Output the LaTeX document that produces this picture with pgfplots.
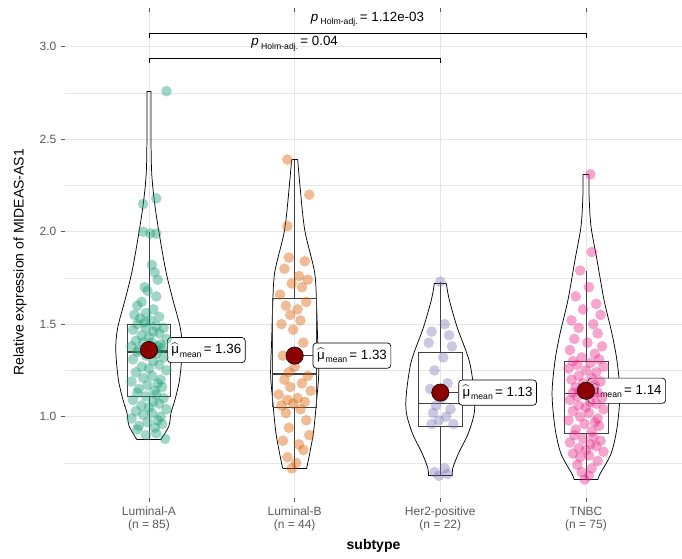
\documentclass[border=0pt]{standalone}
\usepackage{fontspec}
\setmainfont{Liberation Sans}
\usepackage{pgfplots}
\usepackage{pgfplotstable}
\pgfplotsset{compat=1.18}
\definecolor{cA}{HTML}{1B9E77}
\definecolor{cB}{HTML}{D95F02}
\definecolor{cC}{HTML}{7570B3}
\definecolor{cD}{HTML}{E7298A}
\definecolor{meanred}{HTML}{8B0000}
\definecolor{gridc}{HTML}{E6E6E6}
\definecolor{tickc}{HTML}{5A5A5A}
\definecolor{boxc}{HTML}{404040}

\pgfplotstableread{
y xl xr
0.875 0.918 1.082
0.95 0.863 1.137
1.02 0.849 1.151
1.09 0.822 1.178
1.20 0.790 1.210
1.36 0.772 1.228
1.48 0.785 1.215
1.65 0.842 1.158
1.81 0.890 1.110
2.10 0.952 1.048
2.30 0.980 1.020
2.50 0.986 1.014
2.76 0.986 1.014
}\vA
\pgfplotstableread{
y xl xr
0.72 1.918 2.082
0.80 1.897 2.103
0.92 1.870 2.130
1.09 1.849 2.151
1.23 1.835 2.165
1.41 1.842 2.158
1.59 1.849 2.151
1.78 1.863 2.137
2.01 1.931 2.069
2.27 1.966 2.034
2.39 1.979 2.021
}\vB
\pgfplotstableread{
y xl xr
0.68 2.918 3.082
0.72 2.915 3.085
0.80 2.876 3.124
0.91 2.808 3.192
1.02 2.767 3.233
1.125 2.767 3.233
1.30 2.801 3.199
1.48 2.883 3.117
1.63 2.938 3.062
1.72 2.959 3.041
}\vC
\pgfplotstableread{
y xl xr
0.66 3.918 4.082
0.69 3.904 4.096
0.80 3.828 4.172
0.94 3.787 4.213
1.125 3.767 4.233
1.30 3.787 4.213
1.45 3.822 4.178
1.63 3.876 4.124
1.85 3.925 4.075
2.03 3.966 4.034
2.20 3.979 4.021
2.31 3.979 4.021
}\vD

\begin{document}
\begin{tikzpicture}
\useasboundingbox (-48.75pt,-45pt) rectangle (462.75pt,373.5pt);
\begin{axis}[
  at={(0,0)}, anchor=south west,
  scale only axis, width=462.75pt, height=364.5pt,
  xmin=0.4235, xmax=4.659, ymin=0.56, ymax=3.188,
  axis line style={draw=none},
  xtick={1,2,3,4},
  xticklabels={{Luminal-A\\(n = 85)},{Luminal-B\\(n = 44)},{Her2-positive\\(n = 22)},{TNBC\\(n = 75)}},
  xticklabel style={align=center, text=tickc, font=\fontsize{9}{10}\selectfont},
  ytick={1,1.5,2,2.5,3},
  yticklabels={1.0,1.5,2.0,2.5,3.0},
  yticklabel style={text=tickc, font=\fontsize{9}{10}\selectfont},
  minor ytick={0.75,1.25,1.75,2.25,2.75},
  grid=both,
  major grid style={gridc, line width=0.6pt},
  minor grid style={gridc, line width=0.5pt},
  tick style={tickc, line width=0.5pt},
  tick align=outside,
  major tick length=3pt,
  minor tick length=0pt,
  xlabel={\bfseries subtype},
  xlabel style={at={(axis description cs:0.5,-0.0988)}, anchor=center, font=\fontsize{10.5}{12}\selectfont},
  ylabel={Relative expression of MIDEAS-AS1},
  ylabel style={at={(axis description cs:-0.0729,0.485)}, anchor=center, font=\fontsize{10.5}{12}\selectfont},
  clip=false,
  /pgf/number format/assume math mode=true,
]

% violins
\addplot[black, line width=0.55pt, smooth, tension=0.5] table[x=xl,y=y]{\vA};
\addplot[black, line width=0.55pt, smooth, tension=0.5] table[x=xr,y=y]{\vA};
\addplot[black, line width=0.55pt] coordinates {(0.918,0.875)(1.082,0.875)};
\addplot[black, line width=0.55pt] coordinates {(0.986,2.76)(1.014,2.76)};
\addplot[black, line width=0.55pt, smooth, tension=0.5] table[x=xl,y=y]{\vB};
\addplot[black, line width=0.55pt, smooth, tension=0.5] table[x=xr,y=y]{\vB};
\addplot[black, line width=0.55pt] coordinates {(1.918,0.72)(2.082,0.72)};
\addplot[black, line width=0.55pt] coordinates {(1.979,2.39)(2.021,2.39)};
\addplot[black, line width=0.55pt, smooth, tension=0.5] table[x=xl,y=y]{\vC};
\addplot[black, line width=0.55pt, smooth, tension=0.5] table[x=xr,y=y]{\vC};
\addplot[black, line width=0.55pt] coordinates {(2.918,0.68)(3.082,0.68)};
\addplot[black, line width=0.55pt] coordinates {(2.959,1.72)(3.041,1.72)};
\addplot[black, line width=0.55pt, smooth, tension=0.5] table[x=xl,y=y]{\vD};
\addplot[black, line width=0.55pt, smooth, tension=0.5] table[x=xr,y=y]{\vD};
\addplot[black, line width=0.55pt] coordinates {(3.918,0.66)(4.082,0.66)};
\addplot[black, line width=0.55pt] coordinates {(3.979,2.31)(4.021,2.31)};

% boxes
\addplot[boxc, line width=0.5pt] coordinates {(0.85,1.11)(1.15,1.11)(1.15,1.50)(0.85,1.50)(0.85,1.11)};
\addplot[boxc, line width=0.5pt] coordinates {(1,0.88)(1,1.11)};
\addplot[boxc, line width=0.5pt] coordinates {(1,1.50)(1,2.00)};
\addplot[boxc, line width=1.1pt] coordinates {(0.85,1.35)(1.15,1.35)};
\addplot[boxc, line width=0.5pt] coordinates {(1.85,1.05)(2.15,1.05)(2.15,1.64)(1.85,1.64)(1.85,1.05)};
\addplot[boxc, line width=0.5pt] coordinates {(2,0.72)(2,1.05)};
\addplot[boxc, line width=0.5pt] coordinates {(2,1.64)(2,2.39)};
\addplot[boxc, line width=1.1pt] coordinates {(1.85,1.23)(2.15,1.23)};
\addplot[boxc, line width=0.5pt] coordinates {(2.85,0.95)(3.15,0.95)(3.15,1.35)(2.85,1.35)(2.85,0.95)};
\addplot[boxc, line width=0.5pt] coordinates {(3,0.68)(3,0.95)};
\addplot[boxc, line width=0.5pt] coordinates {(3,1.35)(3,1.73)};
\addplot[boxc, line width=1.1pt] coordinates {(2.85,1.07)(3.15,1.07)};
\addplot[boxc, line width=0.5pt] coordinates {(3.85,0.91)(4.15,0.91)(4.15,1.30)(3.85,1.30)(3.85,0.91)};
\addplot[boxc, line width=0.5pt] coordinates {(4,0.66)(4,0.91)};
\addplot[boxc, line width=0.5pt] coordinates {(4,1.30)(4,1.79)};
\addplot[boxc, line width=1.1pt] coordinates {(3.85,1.125)(4.15,1.125)};

% points
\addplot[only marks, mark=*, mark size=4pt, mark options={fill=cA, draw=cA, fill opacity=0.42, draw opacity=0}] coordinates {
(1.12,2.76)(1.05,2.18)(0.96,2.15)(0.96,2.00)(1.05,1.99)(1.01,1.99)(1.02,1.82)(1.04,1.78)(1.06,1.74)(0.97,1.70)(0.99,1.68)(1.05,1.65)(0.95,1.62)(0.92,1.60)(1.03,1.58)(0.98,1.56)(0.90,1.55)(1.07,1.54)(0.94,1.53)(1.01,1.52)(0.97,1.51)
(0.92,1.50)(1.05,1.49)(0.98,1.48)(1.10,1.48)(0.89,1.47)(1.03,1.46)(1.07,1.45)(0.95,1.44)(1.00,1.43)(1.12,1.42)(0.91,1.41)(1.02,1.40)(0.96,1.40)(1.08,1.39)(0.88,1.38)(1.06,1.38)(0.99,1.37)(1.09,1.37)(0.93,1.36)(1.04,1.36)(0.92,1.35)
(1.05,1.34)(0.98,1.33)(1.10,1.32)(0.89,1.31)(1.03,1.30)(1.07,1.28)(0.95,1.27)(1.00,1.26)(1.12,1.25)(0.91,1.24)(1.02,1.22)(0.96,1.21)(1.08,1.20)(0.88,1.19)(1.06,1.18)(0.99,1.17)(1.09,1.16)(0.93,1.15)(1.04,1.14)(0.92,1.13)(1.05,1.12)(0.98,1.11)
(1.10,1.10)(0.89,1.09)(1.03,1.08)(1.07,1.07)(0.95,1.06)(1.00,1.05)(1.12,1.04)(0.91,1.03)(1.02,1.02)(0.96,1.01)(1.08,1.00)(0.88,0.99)(1.06,0.98)(0.99,0.97)(1.09,0.96)(0.93,0.95)(1.04,0.94)(0.92,0.93)(1.05,0.91)(0.98,0.90)(1.11,0.88)
};
\addplot[only marks, mark=*, mark size=4pt, mark options={fill=cB, draw=cB, fill opacity=0.42, draw opacity=0}] coordinates {
(1.95,2.39)(2.10,2.20)(1.95,2.03)(1.96,1.86)(2.07,1.84)(1.93,1.80)(2.03,1.76)(2.09,1.74)(1.98,1.72)(2.05,1.70)(1.90,1.66)
(2.08,1.62)(1.94,1.60)(2.02,1.58)(1.97,1.55)(2.04,1.52)(1.91,1.50)(1.99,1.47)(2.06,1.40)(1.92,1.33)(2.00,1.27)(1.96,1.24)
(2.09,1.22)(1.93,1.20)(2.05,1.18)(1.97,1.16)(2.11,1.14)(1.89,1.12)(2.02,1.10)(1.95,1.09)(2.07,1.08)(1.99,1.07)(1.91,1.06)
(2.04,1.04)(1.94,1.02)(2.08,0.98)(1.96,0.94)(2.10,0.90)(1.92,0.87)(2.03,0.85)(2.06,0.82)(1.95,0.78)(2.01,0.75)(1.98,0.72)
};
\addplot[only marks, mark=*, mark size=4pt, mark options={fill=cC, draw=cC, fill opacity=0.38, draw opacity=0}] coordinates {
(3.00,1.73)(3.03,1.50)(2.94,1.46)(3.06,1.44)(2.92,1.40)(3.08,1.38)(3.02,1.32)(2.96,1.25)(3.05,1.18)(2.93,1.15)(3.01,1.10)
(2.97,1.06)(3.07,1.04)(2.95,1.02)(3.04,1.00)(2.99,0.98)(3.09,0.96)(2.94,0.96)(3.03,0.72)(2.96,0.70)(3.05,0.69)(2.99,0.68)
};
\addplot[only marks, mark=*, mark size=4pt, mark options={fill=cD, draw=cD, fill opacity=0.42, draw opacity=0}] coordinates {
(4.03,2.31)(4.04,1.89)(3.96,1.79)(4.02,1.70)(3.93,1.65)(4.07,1.61)(3.98,1.58)(4.10,1.55)(3.90,1.52)(4.05,1.50)(3.95,1.48)(4.08,1.45)(3.92,1.42)(4.01,1.40)(4.11,1.38)(3.89,1.36)(4.06,1.34)(3.97,1.32)(4.09,1.31)
(3.91,1.30)(4.03,1.29)(3.94,1.28)(4.12,1.27)(3.88,1.26)(4.00,1.25)(4.07,1.24)(3.95,1.22)(4.04,1.21)(3.90,1.20)(4.10,1.19)(3.98,1.18)(4.06,1.17)(3.93,1.16)(4.02,1.15)(3.96,1.14)(4.08,1.13)(3.91,1.13)
(4.05,1.12)(3.94,1.11)(4.11,1.10)(3.89,1.09)(4.03,1.08)(4.07,1.07)(3.95,1.06)(4.00,1.05)(4.12,1.04)(3.91,1.03)(4.02,1.02)(3.96,1.00)(4.08,0.99)(3.88,0.98)(4.06,0.97)(3.99,0.96)(4.09,0.95)(3.93,0.93)(4.04,0.92)
(3.92,0.90)(4.05,0.89)(3.98,0.88)(4.10,0.87)(3.89,0.86)(4.03,0.85)(4.07,0.84)(3.95,0.83)(4.00,0.82)(4.12,0.81)(3.91,0.80)(4.02,0.79)(3.96,0.78)(4.08,0.76)(3.94,0.74)(4.04,0.72)(3.97,0.70)(4.02,0.68)(3.99,0.66)
};

% connectors to labels
\addplot[boxc, line width=0.6pt] coordinates {(1,1.36)(1.124,1.36)};
\addplot[boxc, line width=0.6pt] coordinates {(2,1.33)(2.124,1.33)};
\addplot[boxc, line width=0.6pt] coordinates {(3,1.13)(3.124,1.13)};

% means
\addplot[only marks, mark=*, mark size=6.5pt, mark options={draw=none, fill=meanred}] coordinates {(1,1.36)(2,1.33)(3,1.13)(4,1.14)};

% mean labels
\tikzset{mlab/.style={draw=black, line width=0.5pt, rounded corners=2.5pt, fill=white, inner xsep=3pt, inner ysep=4pt, anchor=west, font=\fontsize{10}{11}\selectfont}}
\newcommand{\mlabel}[1]{$\widehat{\hbox{μ}}$\kern0.6pt\raisebox{-0.5ex}{\fontsize{6.5}{6.5}\selectfont mean}\,= #1}
\node[mlab] at (axis cs:1.124,1.36) {\mlabel{1.36}};
\node[mlab] at (axis cs:2.124,1.33) {\mlabel{1.33}};
\node[mlab] at (axis cs:3.124,1.13) {\mlabel{1.13}};
\node[mlab] at (axis cs:4.01,1.14) {\mlabel{1.14}};

% significance brackets
\addplot[black, line width=0.6pt] coordinates {(1,3.048)(1,3.07)(4,3.07)(4,3.048)};
\addplot[black, line width=0.6pt] coordinates {(1,2.913)(1,2.935)(3,2.935)(3,2.913)};
\node[font=\fontsize{10}{11}\selectfont] at (axis cs:2.5,3.15) {\textit{p}\,\raisebox{-0.5ex}{\fontsize{6.5}{6.5}\selectfont Holm-adj.}\,= 1.12e-03};
\node[font=\fontsize{10}{11}\selectfont] at (axis cs:2.0,3.015) {\textit{p}\,\raisebox{-0.5ex}{\fontsize{6.5}{6.5}\selectfont Holm-adj.}\,= 0.04};
\end{axis}
\end{tikzpicture}
\end{document}
